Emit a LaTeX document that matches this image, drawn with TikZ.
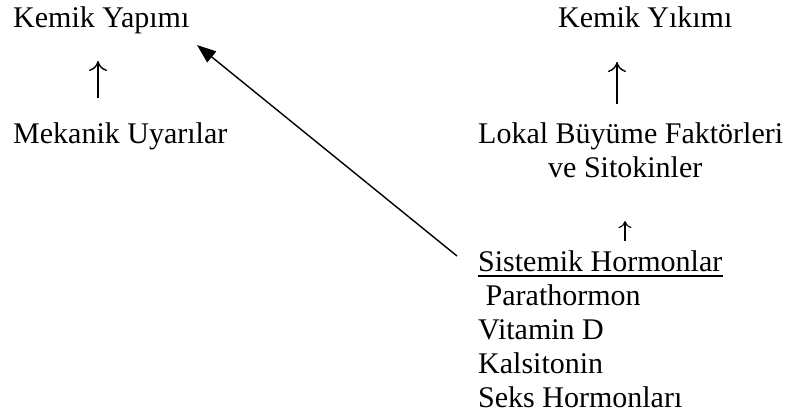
\documentclass[tikz,border=0pt]{standalone}
\usepackage{fontspec}
\setmainfont{Liberation Serif}
\usetikzlibrary{arrows.meta, positioning, calc}

\tikzset{
  txt/.style={anchor=base west, inner sep=0pt, font=\fontsize{30}{34}\selectfont},
  uparrow/.style={line width=1.4pt, -{To[length=10pt,width=18pt]}},
  smallup/.style={line width=1.1pt, -{To[length=7pt,width=13pt]}},
  longarrow/.style={line width=1.4pt, -{Triangle[length=19pt,width=14pt]}}
}

\begin{document}
\begin{tikzpicture}[x=1pt,y=-1pt]
        \useasboundingbox (0,0) rectangle (797,416);
        % left column
        \node[txt] (yap) at (13,27) {Kemik Yapımı};
        \node[txt] (mek) at (13,143) {Mekanik Uyarılar};
        \coordinate (a1s) at (98,98);
        \coordinate (a1e) at (98,61);
        \draw[uparrow] (a1s) -- (a1e);
        % right column
        \node[txt] (yik) at (558,27) {Kemik Yıkımı};
        \node[txt] (lok) at (478,143) {Lokal Büyüme Faktörleri};
        \node[txt] (sit) at ($(lok.base west)+(70,34)$) {ve Sitokinler};
        \coordinate (a2s) at (617,104);
        \coordinate (a2e) at (617,62);
        \draw[uparrow] (a2s) -- (a2e);
        \coordinate (a3s) at (625,241);
        \coordinate (a3e) at (625,221);
        \draw[smallup] (a3s) -- (a3e);
        \node[txt] (sis) at (478,271) {Sistemik Hormonlar};
        \draw[line width=1.2pt] ($(sis.base west)+(0,5)$) -- ($(sis.base east)+(0,5)$);
        \node[txt] (par) at (478,305) {\ Parathormon};
        \node[txt] (vit) at (478,339) {Vitamin D};
        \node[txt] (kal) at (478,373) {Kalsitonin};
        \node[txt] (sek) at (478,407) {Seks Hormonları};
        % long arrow
        \coordinate (tail) at (457,256);
        \coordinate (tip) at (197,45);
        \draw[longarrow] (tail) -- (tip);
\end{tikzpicture}
\end{document}
